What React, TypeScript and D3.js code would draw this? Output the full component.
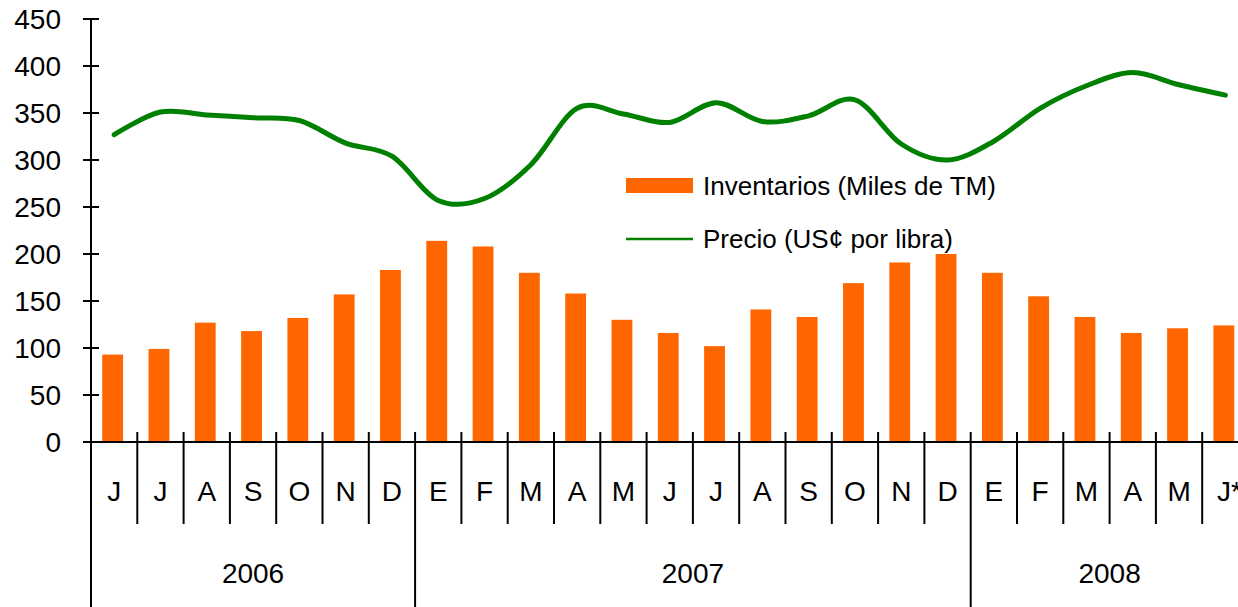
import React, { useRef, useEffect } from "react";
import * as d3 from "d3";

// Chart data
const months = ["J", "J", "A", "S", "O", "N", "D", "E", "F", "M", "A", "M", "J", "J", "A", "S", "O", "N", "D", "E", "F", "M", "A", "M", "J*"];
const inventarios = [93, 99, 127, 118, 132, 157, 183, 214, 208, 180, 158, 130, 116, 102, 141, 133, 169, 191, 200, 180, 155, 133, 116, 121, 124];
const precio = [327, 351, 348, 345, 342, 318, 304, 257, 259, 295, 355, 349, 340, 361, 341, 347, 364, 317, 300, 320, 355, 379, 393, 380, 369];
const years = ["2006", "2007", "2008"];
const yearMonths = [7, 12, 6];
const yTicks = [0, 50, 100, 150, 200, 250, 300, 350, 400, 450];

const FONT = "'Liberation Sans', Arial, sans-serif";

const App: React.FC = () => {
  const svgRef = useRef<SVGSVGElement | null>(null);

  useEffect(() => {
    if (!svgRef.current) return;
    const svg = d3.select(svgRef.current);
    svg.selectAll("*").remove();

    const left = 91;
    const right = 1248.5;
    const top = 19;
    const base = 442;
    const bottom = 607;
    const pad = 0.55;

    const x = d3
      .scaleBand<number>()
      .domain(months.map((_d, i) => i))
      .range([left, right])
      .paddingInner(pad)
      .paddingOuter(pad / 2);
    const step = x.step();
    const edge = (k: number) => left + k * step;
    const center = (i: number) => x(i)! + x.bandwidth() / 2;

    const y = d3.scaleLinear().domain([0, 450]).range([base, top]);

    // Bars
    svg
      .append("g")
      .selectAll("rect")
      .data(inventarios)
      .enter()
      .append("rect")
      .attr("x", (_d, i) => x(i)! - 1.5)
      .attr("y", (d) => y(d))
      .attr("width", x.bandwidth())
      .attr("height", (d) => base - y(d))
      .attr("fill", "#FF6600");

    // Price line
    const line = d3
      .line<number>()
      .x((_d, i) => center(i))
      .y((d) => y(d))
      .curve(d3.curveCardinal.tension(0));
    svg
      .append("path")
      .datum(precio)
      .attr("d", line)
      .attr("fill", "none")
      .attr("stroke", "#008000")
      .attr("stroke-width", 5)
      .attr("stroke-linecap", "round");

    // Y axis
    const axis = svg.append("g").attr("stroke", "#000").attr("stroke-width", 2);
    axis.append("line").attr("x1", left).attr("x2", left).attr("y1", top).attr("y2", bottom);
    axis
      .selectAll(".ytick")
      .data(yTicks)
      .enter()
      .append("line")
      .attr("x1", left - 8)
      .attr("x2", left + 8)
      .attr("y1", (d) => y(d))
      .attr("y2", (d) => y(d));
    svg
      .append("g")
      .selectAll("text")
      .data(yTicks)
      .enter()
      .append("text")
      .attr("x", 61)
      .attr("y", (d) => y(d) + 10)
      .attr("text-anchor", "end")
      .style("font-family", FONT)
      .style("font-size", "28px")
      .text((d) => d);

    // X axis and category table
    axis.append("line").attr("x1", left).attr("x2", right).attr("y1", base).attr("y2", base);
    const yearEdges = [0];
    yearMonths.forEach((n, i) => yearEdges.push(yearEdges[i] + n));
    const monthEdges = d3.range(1, months.length + 1);
    axis
      .selectAll(".xtick")
      .data(monthEdges)
      .enter()
      .append("line")
      .attr("x1", (k) => edge(k))
      .attr("x2", (k) => edge(k))
      .attr("y1", base - 10)
      .attr("y2", (k) => (yearEdges.includes(k) ? bottom : 524));

    svg
      .append("g")
      .selectAll("text")
      .data(months)
      .enter()
      .append("text")
      .attr("x", (_d, i) => center(i) + (i === months.length - 1 ? 4 : 0))
      .attr("y", 500.5)
      .attr("text-anchor", "middle")
      .style("font-family", FONT)
      .style("font-size", "28px")
      .text((d) => d);

    svg
      .append("g")
      .selectAll("text")
      .data(years)
      .enter()
      .append("text")
      .attr("x", (_d, i) => (edge(yearEdges[i]) + edge(yearEdges[i + 1])) / 2)
      .attr("y", 583)
      .attr("text-anchor", "middle")
      .style("font-family", FONT)
      .style("font-size", "28px")
      .text((d) => d);

    // Legend
    const legend = svg.append("g");
    legend
      .append("rect")
      .attr("x", 626)
      .attr("y", 178)
      .attr("width", 67)
      .attr("height", 15)
      .attr("fill", "#FF6600");
    legend
      .append("line")
      .attr("x1", 626)
      .attr("x2", 693)
      .attr("y1", 239)
      .attr("y2", 239)
      .attr("stroke", "#008000")
      .attr("stroke-width", 2.7);
    legend
      .selectAll("text")
      .data(["Inventarios (Miles de TM)", "Precio (US¢ por libra)"])
      .enter()
      .append("text")
      .attr("x", 703)
      .attr("y", (_d, i) => 195 + i * 53)
      .style("font-family", FONT)
      .style("font-size", "26px")
      .text((d) => d);
  }, []);

  return (
    <svg
      ref={svgRef}
      width={1238}
      height={607}
      style={{ position: "absolute", left: 0, top: 0, background: "#fff" }}
    />
  );
};

export default App;
